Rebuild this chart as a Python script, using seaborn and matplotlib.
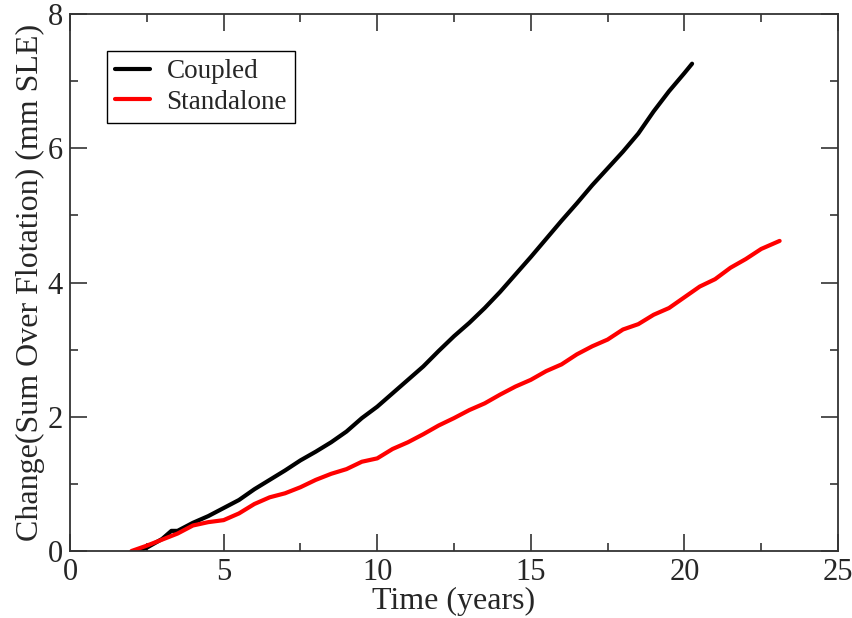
import pandas as pd
import matplotlib

matplotlib.use('Agg')
import matplotlib.pyplot as plt
from matplotlib.ticker import MultipleLocator
import seaborn as sns

# Coupled run (black)
coupled_t = [2.2, 2.5, 3.0, 3.3, 3.5, 4.0, 4.5, 5.0, 5.5, 6.0, 6.5, 7.0, 7.5,
             8.0, 8.5, 9.0, 9.5, 10.0, 10.5, 11.0, 11.5, 12.0, 12.5, 13.0,
             13.5, 14.0, 14.5, 15.0, 15.5, 16.0, 16.5, 17.0, 17.5, 18.0,
             18.5, 19.0, 19.5, 20.0, 20.25]
coupled_v = [0.0, 0.05, 0.18, 0.30, 0.30, 0.42, 0.52, 0.64, 0.76, 0.92, 1.06,
             1.20, 1.35, 1.48, 1.62, 1.78, 1.98, 2.15, 2.35, 2.55, 2.75, 2.98,
             3.20, 3.40, 3.62, 3.86, 4.12, 4.38, 4.65, 4.92, 5.18, 5.45, 5.70,
             5.95, 6.22, 6.55, 6.85, 7.12, 7.26]

# Standalone run (red)
standalone_t = [2.0, 2.5, 3.0, 3.5, 4.0, 4.5, 5.0, 5.5, 6.0, 6.5, 7.0, 7.5,
                8.0, 8.5, 9.0, 9.5, 10.0, 10.5, 11.0, 11.5, 12.0, 12.5, 13.0,
                13.5, 14.0, 14.5, 15.0, 15.5, 16.0, 16.5, 17.0, 17.5, 18.0,
                18.5, 19.0, 19.5, 20.0, 20.5, 21.0, 21.5, 22.0, 22.5, 23.0,
                23.1]
standalone_v = [0.0, 0.08, 0.17, 0.26, 0.38, 0.43, 0.46, 0.56, 0.70, 0.80,
                0.86, 0.95, 1.06, 1.15, 1.22, 1.33, 1.38, 1.52, 1.62, 1.74,
                1.87, 1.98, 2.10, 2.20, 2.33, 2.45, 2.55, 2.68, 2.78, 2.93,
                3.05, 3.15, 3.30, 3.38, 3.52, 3.62, 3.78, 3.94, 4.05, 4.22,
                4.35, 4.50, 4.60, 4.62]

sns.set_theme(style="ticks")
plt.rcParams['font.family'] = ['Liberation Serif', 'DejaVu Serif']

df = pd.concat([
    pd.DataFrame({'t': coupled_t, 'v': coupled_v, 'run': 'Coupled'}),
    pd.DataFrame({'t': standalone_t, 'v': standalone_v, 'run': 'Standalone'}),
])

fig = plt.figure(figsize=(8.53, 6.18), dpi=100)
ax = fig.add_axes([0.0821, 0.1084, 0.9003, 0.8689])

sns.lineplot(data=df, x='t', y='v', hue='run', palette={'Coupled': 'black', 'Standalone': 'red'},
             estimator=None, sort=False, linewidth=3, ax=ax)

ax.set_xlim(0, 25)
ax.set_ylim(0, 8)
ax.xaxis.set_major_locator(MultipleLocator(5))
ax.xaxis.set_minor_locator(MultipleLocator(2.5))
ax.yaxis.set_major_locator(MultipleLocator(2))
ax.yaxis.set_minor_locator(MultipleLocator(1))
ax.tick_params(which='both', direction='in', top=True, right=True, labelsize=22, width=1.2, color='#333333')
ax.tick_params(which='major', length=12, pad=5)
ax.tick_params(which='minor', length=6)
for s in ax.spines.values():
    s.set_linewidth(1.3)
    s.set_color('#333333')

ax.set_xlabel('Time (years)', fontsize=23, labelpad=0)
ax.set_ylabel('Change(Sum Over Flotation) (mm SLE)', fontsize=23, labelpad=2)

leg = ax.legend(loc='upper left', bbox_to_anchor=(0.048, 0.931), borderaxespad=0,
                fontsize=19.5, fancybox=False, framealpha=1, edgecolor='black',
                handlelength=1.3, handletextpad=0.6, borderpad=0.3, labelspacing=0.2)
leg.get_frame().set_linewidth(1.0)

plt.savefig('out.png', dpi=100)
plt.close()
